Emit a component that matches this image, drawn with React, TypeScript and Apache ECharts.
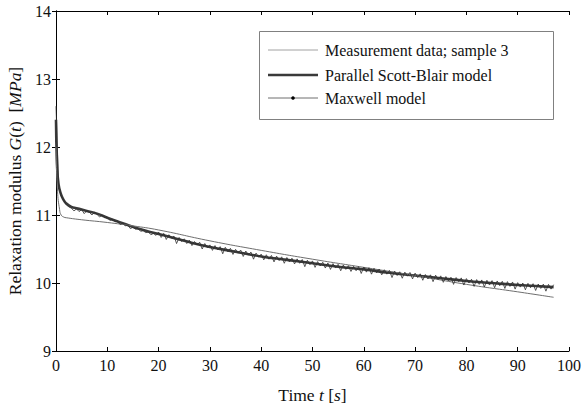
import React, { useEffect, useRef } from "react";
import * as echarts from "echarts";

// Measurement data, sampled every 0.5 s starting at t = 0
const MEAS_START = 0;
const MEAS_STEP = 0.5;
const MEAS_G = [
  12.6, 11.45, 11.28, 11.22, 11.15, 11.12, 11.10, 11.06, 11.09, 11.05,
  11.08, 11.02, 11.06, 11.04, 11.00, 11.04, 11.01, 10.97, 11.00, 10.96,
  10.97, 10.92, 10.94, 10.90, 10.91, 10.86, 10.88, 10.84, 10.85, 10.80,
  10.82, 10.79, 10.80, 10.76, 10.77, 10.74, 10.75, 10.71, 10.73, 10.70,
  10.75, 10.67, 10.73, 10.64, 10.71, 10.66, 10.69, 10.58, 10.67, 10.61,
  10.65, 10.58, 10.63, 10.55, 10.61, 10.56, 10.60, 10.50, 10.58, 10.52,
  10.56, 10.48, 10.55, 10.49, 10.535, 10.43, 10.525, 10.46, 10.51, 10.42,
  10.495, 10.44, 10.485, 10.39, 10.47, 10.41, 10.455, 10.35, 10.44, 10.38,
  10.425, 10.34, 10.415, 10.35, 10.405, 10.31, 10.395, 10.33, 10.385, 10.29,
  10.375, 10.31, 10.365, 10.28, 10.355, 10.29, 10.345, 10.24, 10.335, 10.27,
  10.325, 10.23, 10.315, 10.25, 10.305, 10.22, 10.295, 10.20, 10.285, 10.22,
  10.275, 10.18, 10.265, 10.20, 10.255, 10.17, 10.245, 10.18, 10.24, 10.14,
  10.235, 10.16, 10.225, 10.13, 10.215, 10.15, 10.205, 10.12, 10.195, 10.13,
  10.185, 10.08, 10.175, 10.11, 10.165, 10.07, 10.16, 10.10, 10.155, 10.06,
  10.145, 10.08, 10.135, 10.04, 10.125, 10.06, 10.12, 10.02, 10.115, 10.05,
  10.105, 10.01, 10.095, 10.03, 10.085, 9.98, 10.08, 10.02, 10.075, 9.97,
  10.065, 10.00, 10.055, 9.95, 10.05, 9.98, 10.045, 9.94, 10.04, 9.97,
  10.035, 9.93, 10.03, 9.96, 10.025, 9.92, 10.02, 9.95, 10.015, 9.91,
  10.005, 9.94, 10.0, 9.90, 9.995, 9.93, 9.99, 9.89, 9.985, 9.92,
  9.983, 9.88, 9.98, 9.91, 9.975,
];

// Parallel Scott-Blair model
const SB_T = [0, 0.2, 0.5, 1, 1.5, 2, 3, 4, 5, 6, 8, 10, 13, 16, 20, 25, 30, 35, 40, 45, 50, 55, 60, 65, 70, 75, 80, 85, 90, 97];
const SB_G = [12.4, 11.75, 11.45, 11.3, 11.22, 11.17, 11.12, 11.1, 11.08, 11.06, 11.02, 10.96, 10.88, 10.8, 10.72, 10.62, 10.53, 10.46, 10.39, 10.34, 10.29, 10.24, 10.2, 10.15, 10.11, 10.07, 10.03, 10.0, 9.97, 9.94];

// Maxwell model
const MX_T = [0, 0.3, 0.7, 1, 1.5, 2, 5, 10, 15, 20, 30, 40, 50, 60, 70, 80, 90, 97];
const MX_G = [12.0, 11.35, 11.08, 11.0, 10.97, 10.96, 10.93, 10.89, 10.84, 10.78, 10.62, 10.48, 10.35, 10.23, 10.11, 9.98, 9.87, 9.79];

const LEGEND_LABELS = ["Measurement data; sample 3", "Parallel Scott-Blair model", "Maxwell model"];

const X_MIN = 0, X_MAX = 100, X_STEP = 10;
const Y_MIN = 9, Y_MAX = 14, Y_STEP = 1;

const FONT = "'Liberation Serif', 'Times New Roman', serif";

export default function App() {
  const ref = useRef<HTMLDivElement>(null);
  useEffect(() => {
    if (!ref.current) return;
    const chart = echarts.init(ref.current, undefined, { renderer: "svg" });
    const meas = MEAS_G.map((g, i) => [MEAS_START + i * MEAS_STEP, g]);
    const sb = SB_T.map((t, i) => [t, SB_G[i]]);
    const mx = MX_T.map((t, i) => [t, MX_G[i]]);
    const axisCommon = {
      axisLine: { show: true, lineStyle: { color: "#000", width: 1 } },
      axisTick: { show: true, inside: true, length: 4, lineStyle: { color: "#000" } },
      splitLine: { show: false },
    };
    const lblStyle = { fontFamily: FONT, fontSize: 16, color: "#111" };
    const rich = {
      a: { fontFamily: FONT, fontSize: 17.5, color: "#111" },
      i: { fontFamily: FONT, fontSize: 17.5, color: "#111", fontStyle: "italic" },
    };
    const lx = 268, lw = 50, ltx = 325;
    const rows = [50, 75, 98];
    chart.setOption({
      animation: false,
      backgroundColor: "#fff",
      grid: { left: 56, right: 14, top: 11, bottom: 58, containLabel: false, outerBoundsMode: "none" },
      xAxis: [
        {
          type: "value", min: X_MIN, max: X_MAX, interval: X_STEP, position: "bottom",
          ...axisCommon,
          axisLabel: { ...lblStyle, margin: 6 },
          name: "{a|Time }{i|t}{a| [}{i|s}{a|]}",
          nameLocation: "middle", nameGap: 35,
          nameTextStyle: { rich },
        },
        {
          type: "value", min: X_MIN, max: X_MAX, interval: X_STEP, position: "top",
          ...axisCommon, axisLabel: { show: false },
        },
      ],
      yAxis: [
        {
          type: "value", min: Y_MIN, max: Y_MAX, interval: Y_STEP, position: "left",
          ...axisCommon,
          axisLabel: { ...lblStyle, margin: 5 },
          name: "{a|Relaxation modulus }{i|G}{a|(}{i|t}{a|)  [}{i|MPa}{a|]}",
          nameLocation: "middle", nameGap: 32,
          nameTextStyle: { rich },
        },
        {
          type: "value", min: Y_MIN, max: Y_MAX, interval: Y_STEP, position: "right",
          ...axisCommon, axisLabel: { show: false },
        },
      ],
      series: [
        {
          name: LEGEND_LABELS[1], type: "line", data: sb, symbol: "none", smooth: true,
          lineStyle: { color: "#3a3a3a", width: 2.6 }, z: 2,
        },
        {
          name: LEGEND_LABELS[2], type: "line", data: mx, symbol: "none", smooth: true,
          lineStyle: { color: "#6e6e6e", width: 1 }, z: 3,
        },
        {
          name: LEGEND_LABELS[0], type: "line", data: meas, symbol: "none",
          lineStyle: { color: "#2e2e2e", width: 0.8 }, z: 4,
        },
      ],
      graphic: [
        { type: "rect", shape: { x: 259.5, y: 31.5, width: 294, height: 88 }, style: { fill: "#fff", stroke: "#808080", lineWidth: 1 }, z: 10 },
        { type: "line", shape: { x1: lx, y1: rows[0], x2: lx + lw, y2: rows[0] }, style: { stroke: "#8a8a8a", lineWidth: 0.8 }, z: 11 },
        { type: "line", shape: { x1: lx, y1: rows[1], x2: lx + lw, y2: rows[1] }, style: { stroke: "#3a3a3a", lineWidth: 2.6 }, z: 11 },
        { type: "line", shape: { x1: lx, y1: rows[2], x2: lx + lw, y2: rows[2] }, style: { stroke: "#6e6e6e", lineWidth: 1 }, z: 11 },
        { type: "circle", shape: { cx: lx + lw / 2, cy: rows[2], r: 1.8 }, style: { fill: "#000" }, z: 12 },
        ...LEGEND_LABELS.map((s, k) => ({
          type: "text", x: ltx, y: rows[k], z: 12,
          style: { text: s, fontFamily: FONT, fontSize: 16, fill: "#111", textVerticalAlign: "middle", verticalAlign: "middle" },
        })),
      ],
    });
    return () => chart.dispose();
  }, []);
  return <div ref={ref} style={{ position: "fixed", left: 0, top: 0, width: 583, height: 409 }} />;
}
